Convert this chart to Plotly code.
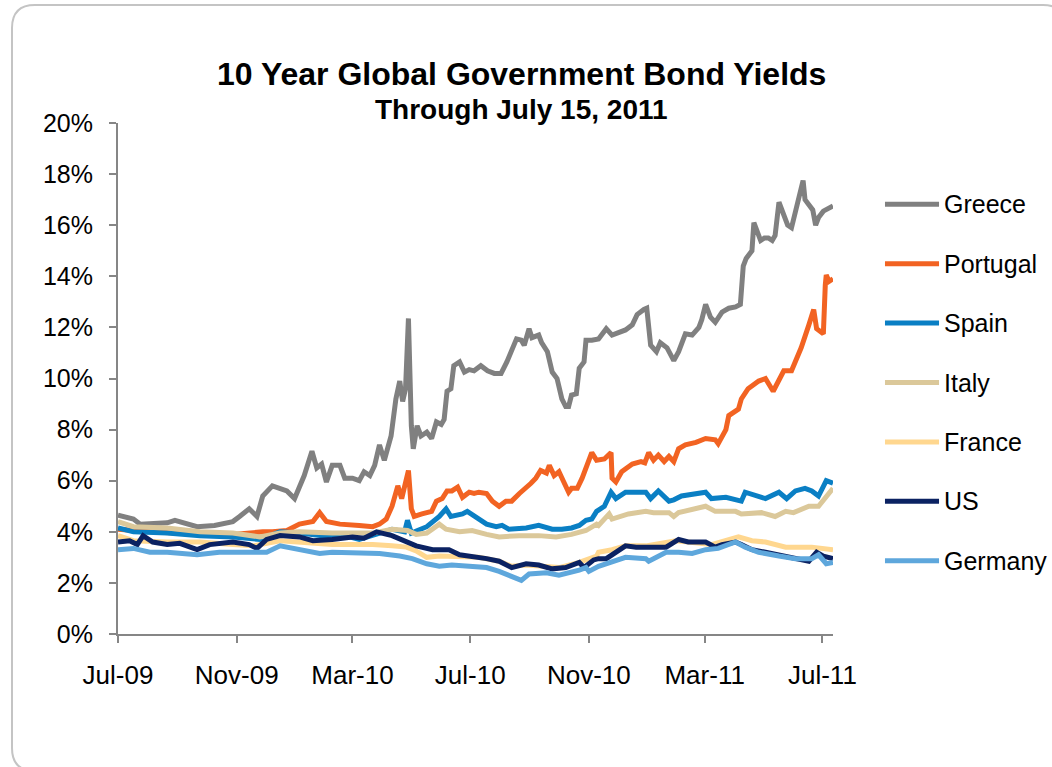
import pandas as pd
import plotly.graph_objects as go

# ---------------- data (day offset from 2009-07-01, yield %) ----------------
START = "2009-07-01"

greece_day = [0, 16, 23, 51, 59, 82, 100, 113, 119, 126, 136, 144, 150, 160, 175, 183, 188, 193, 201, 206,
              211, 216, 222, 230, 235, 243, 250, 255, 261, 266, 271, 276, 283, 288, 292, 295, 298, 301, 304, 306,
              310, 314, 320, 325, 330, 335, 338, 341, 345, 348, 354, 359, 364, 369, 376, 383, 390, 397, 403, 408,
              413, 418, 421, 426, 429, 436, 439, 445, 450, 455, 460, 464, 467, 470, 475, 478, 483, 485, 491, 498,
              506, 512, 519, 526, 533, 538, 545, 548, 552, 558, 562, 569, 576, 581, 588, 595, 602, 605, 609, 614,
              619, 626, 633, 640, 645, 648, 651, 657, 659, 662, 666, 670, 674, 678, 681, 685, 688, 690, 694, 698,
              703, 707, 710, 712, 716, 720, 723, 726, 731, 734, 741]
greece = [4.65, 4.5, 4.3, 4.35, 4.45, 4.2, 4.25, 4.35, 4.4, 4.6, 4.9, 4.6, 5.4, 5.8, 5.6, 5.3, 5.8, 6.2, 7.15, 6.5,
          6.65, 5.95, 6.6, 6.6, 6.1, 6.1, 6.0, 6.35, 6.2, 6.6, 7.4, 6.8, 7.75, 9.2, 9.9, 9.1, 9.6, 12.35, 8.15, 7.25,
          8.15, 7.75, 7.9, 7.65, 8.3, 8.2, 8.4, 9.5, 9.6, 10.5, 10.65, 10.25, 10.35, 10.3, 10.5, 10.3, 10.2, 10.2, 10.65, 11.05,
          11.55, 11.5, 11.3, 11.95, 11.6, 11.7, 11.4, 11.05, 10.25, 10.0, 9.2, 8.9, 8.9, 9.35, 9.4, 10.4, 10.65, 11.5, 11.5, 11.55,
          11.95, 11.7, 11.8, 11.9, 12.1, 12.5, 12.7, 12.75, 11.3, 11.05, 11.4, 11.2, 10.7, 11.05, 11.75, 11.7, 12.0, 12.3, 12.9, 12.4,
          12.2, 12.6, 12.75, 12.8, 12.9, 14.4, 14.7, 15.0, 16.1, 15.8, 15.4, 15.5, 15.5, 15.4, 15.6, 16.9, 16.6, 16.35, 16.0, 15.9,
          16.6, 17.2, 17.75, 17.0, 16.8, 16.6, 16.0, 16.3, 16.55, 16.6, 16.75]

portugal_day = [0, 33, 85, 122, 150, 160, 175, 188, 202, 209, 216, 230, 250, 264, 271, 278, 284, 290, 294, 299,
                301, 304, 307, 315, 325, 330, 336, 341, 346, 352, 357, 364, 369, 374, 382, 388, 395, 402, 408, 416,
                423, 428, 433, 438, 444, 447, 452, 457, 462, 467, 470, 476, 481, 486, 491, 496, 504, 511, 512, 516,
                522, 533, 542, 546, 550, 555, 560, 566, 571, 576, 581, 588, 599, 609, 619, 622, 630, 633, 643, 646,
                653, 664, 671, 679, 685, 690, 698, 702, 708, 716, 721, 724, 731, 733, 734, 737, 741]
portugal = [4.1, 4.0, 3.9, 3.9, 4.0, 4.0, 4.05, 4.3, 4.4, 4.75, 4.4, 4.3, 4.25, 4.2, 4.3, 4.5, 5.0, 5.8, 5.3, 6.1,
            6.4, 4.9, 4.6, 4.7, 4.8, 5.2, 5.3, 5.6, 5.6, 5.75, 5.35, 5.55, 5.5, 5.55, 5.5, 5.2, 5.0, 5.2, 5.2, 5.5,
            5.7, 5.9, 6.1, 6.4, 6.3, 6.6, 6.2, 6.35, 5.95, 5.55, 5.7, 5.7, 6.1, 6.65, 7.1, 6.8, 6.85, 7.1, 6.1, 5.95,
            6.35, 6.65, 6.75, 6.7, 7.1, 6.8, 7.0, 6.75, 6.95, 6.75, 7.25, 7.4, 7.5, 7.65, 7.6, 7.45, 8.0, 8.55, 8.8, 9.2,
            9.6, 9.9, 10.0, 9.5, 10.0, 10.3, 10.3, 10.65, 11.2, 12.1, 12.7, 11.95, 11.75, 13.65, 14.05, 13.8, 13.9]

spain_day = [0, 16, 51, 85, 119, 147, 168, 188, 222, 230, 250, 264, 284, 297, 300, 304, 320, 333, 340, 345,
             357, 362, 371, 382, 392, 398, 405, 423, 436, 450, 460, 470, 478, 485, 491, 496, 504, 511, 516, 526,
             547, 552, 560, 571, 576, 584, 609, 615, 630, 646, 650, 661, 671, 685, 693, 702, 712, 719, 726, 734, 741]
spain = [4.15, 4.0, 3.95, 3.85, 3.8, 3.7, 4.0, 3.95, 3.8, 3.9, 3.7, 3.85, 4.1, 4.0, 4.45, 3.95, 4.2, 4.6, 4.9, 4.6,
         4.7, 4.8, 4.6, 4.3, 4.2, 4.25, 4.1, 4.15, 4.25, 4.1, 4.1, 4.15, 4.25, 4.45, 4.5, 4.8, 5.0, 5.55, 5.3, 5.55,
         5.55, 5.3, 5.6, 5.2, 5.25, 5.4, 5.55, 5.3, 5.35, 5.2, 5.55, 5.4, 5.3, 5.55, 5.3, 5.6, 5.7, 5.6, 5.4, 6.0, 5.9]

italy_day = [0, 16, 51, 85, 119, 147, 168, 188, 222, 250, 264, 284, 300, 309, 320, 333, 340, 354, 367, 382,
             395, 416, 436, 454, 470, 485, 496, 498, 509, 512, 529, 547, 555, 571, 576, 581, 609, 619, 640, 646,
             667, 681, 692, 700, 716, 726, 733, 741]
italy = [4.4, 4.2, 4.15, 4.0, 3.95, 3.8, 3.95, 4.0, 3.95, 3.95, 3.95, 4.1, 4.05, 3.9, 3.95, 4.3, 4.1, 4.0, 4.05, 3.9,
         3.8, 3.85, 3.85, 3.8, 3.9, 4.05, 4.3, 4.25, 4.7, 4.5, 4.7, 4.8, 4.75, 4.75, 4.6, 4.75, 5.0, 4.8, 4.8, 4.7,
         4.75, 4.6, 4.8, 4.75, 5.0, 5.0, 5.3, 5.7]

france_day = [0, 16, 51, 85, 119, 140, 168, 188, 222, 250, 264, 284, 299, 309, 320, 333, 354, 374, 395, 408,
              423, 436, 457, 478, 485, 496, 498, 512, 526, 547, 578, 591, 615, 643, 657, 671, 692, 719, 741]
france = [3.85, 3.65, 3.6, 3.6, 3.5, 3.45, 3.65, 3.6, 3.5, 3.5, 3.5, 3.45, 3.4, 3.25, 3.0, 3.05, 3.0, 3.0, 2.85, 2.65,
          2.7, 2.65, 2.6, 2.8, 2.9, 3.05, 3.2, 3.3, 3.45, 3.45, 3.65, 3.6, 3.5, 3.8, 3.65, 3.6, 3.4, 3.4, 3.3]

us_day = [0, 12, 20, 26, 36, 51, 64, 82, 95, 119, 136, 144, 154, 168, 188, 202, 222, 243, 255, 268,
          284, 299, 309, 326, 343, 354, 367, 382, 395, 408, 423, 436, 450, 464, 478, 483, 493, 498, 506, 512,
          526, 537, 547, 568, 581, 591, 609, 619, 626, 640, 646, 657, 671, 692, 705, 716, 724, 731, 741]
us = [3.6, 3.65, 3.5, 3.85, 3.6, 3.5, 3.55, 3.3, 3.5, 3.6, 3.5, 3.35, 3.7, 3.85, 3.8, 3.65, 3.7, 3.8, 3.75, 4.0,
      3.85, 3.6, 3.45, 3.3, 3.3, 3.1, 3.05, 2.95, 2.85, 2.6, 2.75, 2.7, 2.55, 2.6, 2.8, 2.6, 2.9, 2.95, 2.95, 3.1,
      3.45, 3.4, 3.4, 3.4, 3.7, 3.6, 3.6, 3.4, 3.5, 3.6, 3.5, 3.3, 3.2, 3.05, 2.95, 2.85, 3.2, 3.05, 2.95]

germany_day = [0, 16, 33, 51, 82, 105, 129, 154, 168, 188, 209, 222, 250, 271, 292, 305, 320, 333, 346, 367,
               382, 395, 408, 418, 426, 444, 457, 470, 478, 485, 488, 498, 512, 526, 547, 550, 568, 581, 595, 609,
               622, 640, 650, 664, 685, 702, 719, 726, 734, 741]
germany = [3.3, 3.35, 3.2, 3.2, 3.1, 3.2, 3.2, 3.2, 3.45, 3.3, 3.15, 3.2, 3.15, 3.15, 3.05, 2.95, 2.75, 2.65, 2.7, 2.65,
           2.6, 2.45, 2.25, 2.1, 2.35, 2.4, 2.3, 2.4, 2.5, 2.6, 2.45, 2.65, 2.85, 3.0, 2.95, 2.85, 3.2, 3.2, 3.15, 3.3,
           3.35, 3.6, 3.4, 3.2, 3.05, 2.95, 2.95, 3.1, 2.75, 2.8]

names = ["Greece", "Portugal", "Spain", "Italy", "France", "US", "Germany"]
colors = ["#808080", "#F26322", "#0A7FC4", "#DBC89A", "#FFD78F", "#0B2262", "#5EA7DC"]
days = [greece_day, portugal_day, spain_day, italy_day, france_day, us_day, germany_day]
values = [greece, portugal, spain, italy, france, us, germany]

# ---------------- figure ----------------
FONT = "Liberation Sans, Arial, sans-serif"
fig = go.Figure()
base = pd.Timestamp(START)
for name, col, d, v in zip(names, colors, days, values):
    dates = base + pd.to_timedelta(d, unit="D")
    fig.add_trace(go.Scatter(x=dates, y=v, mode="lines", name=name,
                             line=dict(color=col, width=5), showlegend=False))

AX = "#868686"
W, H = 1052, 767
fig.update_layout(
    width=W, height=H,
    margin=dict(l=118, r=W - 833, t=123, b=H - 634),
    paper_bgcolor="white", plot_bgcolor="white",
    font=dict(family=FONT, size=25, color="black"),
    xaxis=dict(type="date", range=["2009-07-01", "2011-07-12"], tick0="2009-07-01", dtick="M4",
               tickformat="%b-%y", ticks="outside", ticklen=7, tickwidth=2, tickcolor=AX,
               showline=True, linecolor=AX, linewidth=2, showgrid=False, zeroline=False,
               ticklabelstandoff=10, tickfont=dict(size=26, family=FONT, color="black")),
    yaxis=dict(range=[0, 20], dtick=2, ticksuffix="%", ticks="outside", ticklen=7, tickwidth=2,
               tickcolor=AX, showline=True, linecolor=AX, linewidth=2, showgrid=False, zeroline=False,
               ticklabelstandoff=11, tickfont=dict(size=25, family=FONT, color="black")),
)

# title
fig.add_annotation(text="<b>10 Year Global Government Bond Yields</b>", xref="paper", yref="paper",
                   x=0.565, y=1.096, xanchor="center", yanchor="middle", showarrow=False,
                   font=dict(size=32, family=FONT, color="black"))
fig.add_annotation(text="<b>Through July 15, 2011</b>", xref="paper", yref="paper",
                   x=0.565, y=1.027, xanchor="center", yanchor="middle", showarrow=False,
                   font=dict(size=28, family=FONT, color="black"))

# manual legend
leg_x0, leg_x1, leg_tx = 1.0727, 1.1483, 1.1525
leg_y0, leg_step = 0.8409, 0.11625
for i, (name, col) in enumerate(zip(names, colors)):
    yy = leg_y0 - i * leg_step
    fig.add_shape(type="line", xref="paper", yref="paper", x0=leg_x0, x1=leg_x1, y0=yy, y1=yy,
                  line=dict(color=col, width=5))
    fig.add_annotation(text=name, xref="paper", yref="paper", x=leg_tx, y=yy, xanchor="left",
                       yanchor="middle", showarrow=False, font=dict(size=25, family=FONT, color="black"))

# rounded frame
x0, x1, y0, y1 = -0.14825, 1.3259, -0.2681, 1.2309
rx, ry = 0.0322, 0.0450
path = (f"M {x0+rx},{y1} L {x1-rx},{y1} Q {x1},{y1} {x1},{y1-ry} L {x1},{y0+ry} "
        f"Q {x1},{y0} {x1-rx},{y0} L {x0+rx},{y0} Q {x0},{y0} {x0},{y0+ry} L {x0},{y1-ry} "
        f"Q {x0},{y1} {x0+rx},{y1} Z")
fig.add_shape(type="path", xref="paper", yref="paper", path=path,
              line=dict(color="#C4C4C4", width=2), fillcolor="rgba(0,0,0,0)", layer="below")

fig.write_html("out.html", config={"displayModeBar": False},
               post_script="document.body.style.margin='0px';document.body.style.overflow='hidden';")
